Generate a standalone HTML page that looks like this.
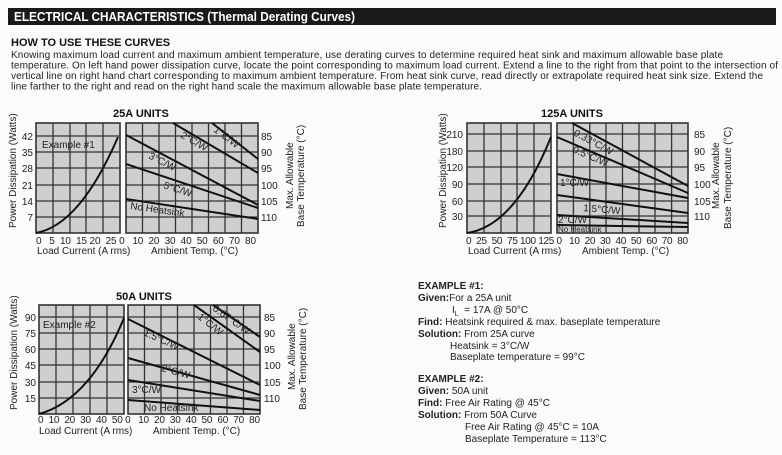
<!DOCTYPE html>
<html><head><meta charset="utf-8"><style>
html,body{margin:0;padding:0;background:#fff;}
svg{display:block;font-family:"Liberation Sans",sans-serif;}
.t{font-size:10px;fill:#222}
.g{stroke:#333;stroke-width:1.3;fill:none}
.c{stroke:#111;stroke-width:2;fill:none}
.b{font-weight:bold}
</style></head><body>
<svg width="782" height="455" viewBox="0 0 782 455" xmlns="http://www.w3.org/2000/svg">
<rect width="782" height="455" fill="#fbfbfb"/>
<rect x="8" y="8" width="768" height="17" fill="#1a1a1a"/>
<text x="14" y="21" fill="#fff" font-size="13" class="b" textLength="341" lengthAdjust="spacingAndGlyphs">ELECTRICAL CHARACTERISTICS  (Thermal Derating Curves)</text>
<text x="11" y="46" font-size="11" class="b" fill="#111">HOW TO USE THESE CURVES</text>
<g class="t" font-size="10.5">
<text x="11" y="58" textLength="712">Knowing maximum load current and maximum ambient temperature, use derating curves to determine required heat sink and maximum allowable base plate</text>
<text x="11" y="68.5" textLength="767">temperature. On left hand power dissipation curve, locate the point corresponding to maximum load current. Extend a line to the right from that point to the intersection of</text>
<text x="11" y="79" textLength="752">vertical line on right hand chart corresponding to maximum ambient temperature. From heat sink curve, read directly or extrapolate required heat sink size. Extend the</text>
<text x="11" y="89.5" textLength="471">line farther to the right and read on the right hand scale the maximum allowable base plate temperature.</text>
</g>

<!-- 25A -->
<text x="113" y="117" font-size="11" class="b" fill="#111">25A UNITS</text>
<rect x="36" y="123" width="84" height="110" fill="#cfcfcf"/>
<rect x="126" y="123" width="132" height="110" fill="#cfcfcf"/>
<g class="g">
<path d="M36 136H120M36 152H120M36 168H120M36 185H120M36 201H120M36 217H120"/>
<path d="M53 123V233M70 123V233M86 123V233M103 123V233"/>
<path d="M126 136H258M126 152H258M126 168H258M126 185H258M126 201H258M126 217H258"/>
<path d="M142.5 123V233M159 123V233M175.5 123V233M192 123V233M208.5 123V233M225 123V233M241.5 123V233"/>
<rect x="36" y="123" width="84" height="110" stroke-width="1.6"/>
<rect x="126" y="123" width="132" height="110" stroke-width="1.6"/>
</g>
<g class="c">
<path d="M36 233Q80 225 118 137"/>
<path d="M126 199L258 219"/><path d="M126 164L258 208"/><path d="M126 135L258 205"/>
<path d="M173 123L258 173"/><path d="M212 123L258 159"/>
</g>
<g class="t" font-size="9.5">
<text x="42" y="148">Example #1</text>
<text x="130" y="209" transform="rotate(8 130 209)">No Heatsink</text>
<text x="163" y="188" transform="rotate(18 163 188)">5°C/W</text>
<text x="148" y="158" transform="rotate(27 148 158)">3°C/W</text>
<text x="180" y="137" transform="rotate(30 180 137)">2°C/W</text>
<text x="213" y="131" transform="rotate(37 213 131)">1°C/W</text>
</g>
<g class="t" text-anchor="end">
<text x="33" y="140">42</text><text x="33" y="156">35</text><text x="33" y="172">28</text><text x="33" y="189">21</text><text x="33" y="205">14</text><text x="33" y="221">7</text>
</g>
<g class="t">
<text x="261" y="140">85</text><text x="261" y="156">90</text><text x="261" y="172">95</text><text x="261" y="189">100</text><text x="261" y="205">105</text><text x="261" y="221">110</text>
</g>
<text class="t" y="244" x="36" textLength="220">0 &#160; 5 &#160;10 &#160;15 20 &#160;25 0 &#160; 10 &#160;20 &#160;30 &#160;40 &#160;50 &#160;60 &#160;70 &#160;80</text>
<text class="t" x="37" y="254">Load Current (A rms)</text>
<text class="t" x="151" y="254">Ambient Temp. (°C)</text>
<text class="t" transform="translate(16 228) rotate(-90)">Power Dissipation (Watts)</text>
<text class="t" transform="translate(293 209) rotate(-90)">Max. Allowable</text>
<text class="t" transform="translate(304 227) rotate(-90)">Base Temperature (°C)</text>

<!-- 125A -->
<text x="541" y="117" font-size="11" class="b" fill="#111">125A UNITS</text>
<rect x="467" y="123" width="84" height="110" fill="#cfcfcf"/>
<rect x="557" y="123" width="131" height="110" fill="#cfcfcf"/>
<g class="g">
<path d="M467 134H551M467 151H551M467 167H551M467 184H551M467 201H551M467 216H551"/>
<path d="M484 123V233M501 123V233M517 123V233M534 123V233"/>
<path d="M557 134H688M557 151H688M557 167H688M557 184H688M557 201H688M557 216H688"/>
<path d="M573.4 123V233M589.8 123V233M606 123V233M622.5 123V233M639 123V233M655 123V233M671.6 123V233"/>
<rect x="467" y="123" width="84" height="110" stroke-width="1.6"/>
<rect x="557" y="123" width="131" height="110" stroke-width="1.6"/>
</g>
<g class="c">
<path d="M467 233Q515 226 551 137"/>
<path d="M572 123L688 186"/><path d="M557 137L688 193"/><path d="M557 174L688 198"/>
<path d="M557 195L688 213"/><path d="M557 215L688 223"/><path d="M557 225L688 227"/>
</g>
<g class="t" font-size="9.5">
<text x="573" y="135" transform="rotate(28 573 135)">0.33°C/W</text>
<text x="572" y="152" transform="rotate(23 572 152)">0.5°C/W</text>
<text x="560" y="186">1°C/W</text>
<text x="583" y="211" transform="rotate(5 583 211)">1.5°C/W</text>
<text x="558" y="223">2°C/W</text>
<text x="558" y="232" font-size="8">No Heatsink</text>
</g>
<g class="t" text-anchor="end">
<text x="463" y="138">210</text><text x="463" y="155">180</text><text x="463" y="171">120</text><text x="463" y="188">90</text><text x="463" y="205">60</text><text x="463" y="220">30</text>
</g>
<g class="t">
<text x="694" y="138">85</text><text x="694" y="155">90</text><text x="694" y="171">95</text><text x="694" y="188">100</text><text x="694" y="205">105</text><text x="694" y="220">110</text>
</g>
<text class="t" y="244" x="466" textLength="222">0 &#160;25 &#160;50 &#160;75 100 125 0 &#160; 10 &#160;20 &#160;30 &#160;40 &#160;50 &#160;60 &#160;70 &#160;80</text>
<text class="t" x="468" y="254">Load Current (A rms)</text>
<text class="t" x="582" y="254">Ambient Temp. (°C)</text>
<text class="t" transform="translate(446 228) rotate(-90)">Power Dissipation (Watts)</text>
<text class="t" transform="translate(719 209) rotate(-90)">Max. Allowable</text>
<text class="t" transform="translate(731 229) rotate(-90)">Base Temperature (°C)</text>

<!-- 50A -->
<text x="116" y="300" font-size="11" class="b" fill="#111">50A UNITS</text>
<rect x="39" y="305" width="85" height="109" fill="#cfcfcf"/>
<rect x="128" y="305" width="132" height="109" fill="#cfcfcf"/>
<g class="g">
<path d="M39 317H124M39 333H124M39 349H124M39 365H124M39 382H124M39 398H124"/>
<path d="M56 305V414M73 305V414M90 305V414M107 305V414"/>
<path d="M128 317H260M128 333H260M128 349H260M128 365H260M128 382H260M128 398H260"/>
<path d="M144.5 305V414M161 305V414M177.5 305V414M194 305V414M210.5 305V414M227 305V414M243.5 305V414"/>
<rect x="39" y="305" width="85" height="109" stroke-width="1.6"/>
<rect x="128" y="305" width="132" height="109" stroke-width="1.6"/>
</g>
<g class="c">
<path d="M39 414Q90 400 124 318"/>
<path d="M213 305L260 337"/><path d="M194 305L260 352"/><path d="M128 319L260 385"/>
<path d="M128 358L260 395"/><path d="M128 380L260 401"/><path d="M128 400L260 410"/>
</g>
<g class="t" font-size="9.5">
<text x="43" y="328">Example #2</text>
<text x="212" y="310" transform="rotate(35 212 310)">0.67°C/W</text>
<text x="197" y="318" transform="rotate(38 197 318)">1°C/W</text>
<text x="143" y="335" transform="rotate(24 143 335)">1.5°C/W</text>
<text x="161" y="371" transform="rotate(15 161 371)">2°C/W</text>
<text x="132" y="393">3°C/W</text>
<text x="144" y="411">No Heatsink</text>
</g>
<g class="t" text-anchor="end">
<text x="36" y="321">90</text><text x="36" y="337">75</text><text x="36" y="353">60</text><text x="36" y="369">45</text><text x="36" y="386">30</text><text x="36" y="402">15</text>
</g>
<g class="t">
<text x="264" y="321">85</text><text x="264" y="337">90</text><text x="264" y="353">95</text><text x="264" y="369">100</text><text x="264" y="386">105</text><text x="264" y="402">110</text>
</g>
<text class="t" y="423" x="38" textLength="222">0 &#160;10 &#160;20 &#160;30 &#160;40 &#160;50 0 &#160; 10 &#160;20 &#160;30 &#160;40 &#160;50 &#160;60 &#160;70 &#160;80</text>
<text class="t" x="39" y="434">Load Current (A rms)</text>
<text class="t" x="153" y="434">Ambient Temp. (°C)</text>
<text class="t" transform="translate(17 410) rotate(-90)">Power Dissipation (Watts)</text>
<text class="t" transform="translate(295 390) rotate(-90)">Max. Allowable</text>
<text class="t" transform="translate(306 410) rotate(-90)">Base Temperature (°C)</text>

<!-- Examples -->
<g class="t" font-size="10.5">
<text x="418" y="289" class="b">EXAMPLE #1:</text>
<text x="418" y="301"><tspan class="b">Given:</tspan>For a 25A unit</text>
<text x="452" y="313">I<tspan font-size="7" dy="3">L</tspan><tspan dy="-3"> &#160;= 17A @ 50°C</tspan></text>
<text x="418" y="325"><tspan class="b">Find:</tspan> Heatsink required &amp; max. baseplate temperature</text>
<text x="418" y="337"><tspan class="b">Solution:</tspan> From 25A curve</text>
<text x="450" y="349">Heatsink = 3°C/W</text>
<text x="450" y="360">Baseplate temperature = 99°C</text>
<text x="418" y="382" class="b">EXAMPLE #2:</text>
<text x="418" y="394"><tspan class="b">Given:</tspan> 50A unit</text>
<text x="418" y="406"><tspan class="b">Find:</tspan>  Free Air Rating @ 45°C</text>
<text x="418" y="418"><tspan class="b">Solution:</tspan> From 50A Curve</text>
<text x="465" y="430">Free Air Rating @ 45°C = 10A</text>
<text x="465" y="442">Baseplate Temperature = 113°C</text>
</g>
</svg>
</body></html>
